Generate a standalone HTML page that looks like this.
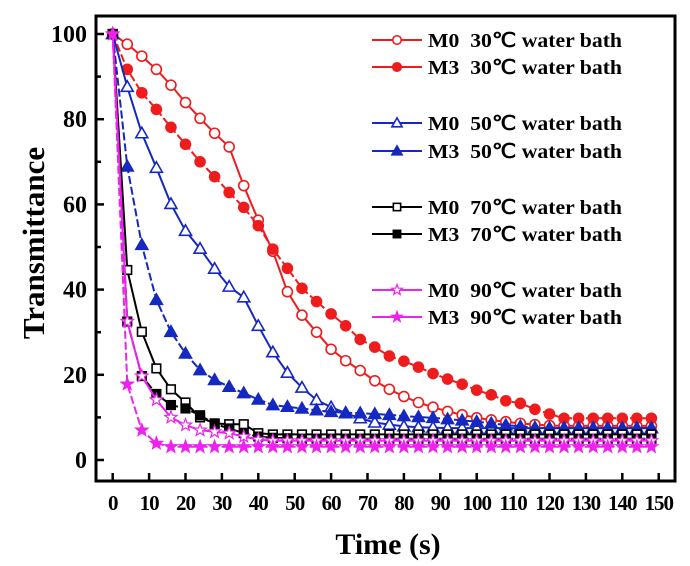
<!DOCTYPE html>
<html><head><meta charset="utf-8"><style>
body{margin:0;background:#fff;}
svg{display:block;font-family:"Liberation Serif",serif;font-weight:bold;}
text{white-space:pre;}
</style></head><body>
<svg id="chart" width="690" height="566" viewBox="0 0 690 566">
<rect x="96" y="16" width="579" height="465" fill="none" stroke="#000" stroke-width="3"/>
<g id="axes"></g><g id="series"></g><g id="legend"></g>
<text x="44" y="243" font-size="31" text-anchor="middle" transform="rotate(-90 44 243)">Transmittance</text>
<text x="388" y="554" font-size="30" text-anchor="middle">Time (s)</text>
</svg>
<script>
const times = [0,4,8,12,16,20,24,28,32,36,40,44,48,52,56,60,64,68,72,76,80,84,88,92,96,100,104,108,112,116,120,124,128,132,136,140,144,148];
const m0_30 = [100,97.6,94.8,91.7,88,83.9,80.2,76.7,73.5,64.4,56.3,49,39.5,34,30,26,23.3,21,18.6,16.6,14.9,13.5,12.4,11.4,10.6,9.9,9.4,9,8.6,8.3,8.1,8,8,8,8,8,8,8];
const m3_30 = [100,91.7,86.2,82.3,78.1,74.1,70,66.5,62.8,59.3,55,49.5,45,40.3,37.2,34.3,31.5,28.3,26.5,24.4,23.2,21.8,20.3,19,17.8,16.4,15.3,13.9,13.3,11.9,10.8,9.8,9.8,9.8,9.8,9.8,9.8,9.8];
const m0_50 = [100,87.6,76.7,68.6,60.1,53.8,49.6,44.9,40.7,38.2,31.5,25.3,20.5,17,14.1,12.4,11,9.8,8.8,8.3,7.9,7.7,7.6,7.5,7.5,7.5,7.5,7.5,7.5,7.5,7.5,7.5,7.5,7.5,7.5,7.5,7.5,7.5];
const m3_50 = [100,68.9,50.5,37.6,30.1,25,21.1,18.8,17.2,15.7,14.2,12.9,12.5,12.1,11.7,11.3,11.1,11,10.8,10.6,10.3,10.1,9.9,9.6,9.3,9,8.6,8.2,7.9,7.6,7.5,7.5,7.5,7.5,7.5,7.5,7.5,7.5];
const m0_70 = [100,44.6,30.1,21.5,16.6,13.5,10,8.6,8.4,8.4,6.3,6,6,6,6,6,6,6,6,6,6,6,6,6,6,6,6,6,6,6,6,6,6,6,6,6,6,6];
const m3_70 = [100,32.5,19.7,15.5,12.9,12.1,10.5,8.5,7.4,6.3,5.5,5.2,5.1,5,5,5,5,5,5,5,5,5,5,5,5,5,5,5,5,5,5,5,5,5,5,5,5,5];
const m0_90 = [100,32.5,19.7,14.1,10,8.2,7,6.6,6.3,5.5,4.8,4.5,4.5,4.5,4.5,4.5,4.5,4.5,4.5,4.5,4.5,4.5,4.5,4.5,4.5,4.5,4.5,4.5,4.5,4.5,4.5,4.5,4.5,4.5,4.5,4.5,4.5,4.5];
const m3_90 = [100,17.8,7,3.9,3.1,3.1,3.1,3.1,3.1,3.1,3.1,3.1,3.1,3.1,3.1,3.1,3.1,3.1,3.1,3.1,3.1,3.1,3.1,3.1,3.1,3.1,3.1,3.1,3.1,3.1,3.1,3.1,3.1,3.1,3.1,3.1,3.1,3.1];
const xTicks = [0,10,20,30,40,50,60,70,80,90,100,110,120,130,140,150];
const yTicks = [0,20,40,60,80,100];
const seriesNames = ["M0  30℃ water bath","M3  30℃ water bath","M0  50℃ water bath","M3  50℃ water bath","M0  70℃ water bath","M3  70℃ water bath","M0  90℃ water bath","M3  90℃ water bath"];

const NS="http://www.w3.org/2000/svg";
function X(t){return 112.7+t*3.64;}
function Y(v){return 460-v*4.26;}
function mk(tag,attrs,parent){const e=document.createElementNS(NS,tag);for(const k in attrs)e.setAttribute(k,attrs[k]);parent.appendChild(e);return e;}
const axes=document.getElementById('axes');
xTicks.forEach(t=>{
  const l=mk('line',{x1:X(t),x2:X(t),y1:481,y2:473,stroke:'#000','stroke-width':2.5},axes);
  
  
  const tx=mk('text',{x:X(t),y:510,'font-size':21,'letter-spacing':-1,'text-anchor':'middle'},axes);tx.textContent=t;
  
  
});
for(let v=0;v<=100;v+=10){
  const l=mk('line',{x1:96,x2:v%20===0?104:101,y1:Y(v),y2:Y(v),stroke:'#000','stroke-width':2.5},axes);
  
  
}
yTicks.forEach(v=>{
  const tx=mk('text',{x:87,y:Y(v)+8,'font-size':24,'text-anchor':'end'},axes);tx.textContent=v;
  
  
});
function marker(g,type,filled,color,x,y,s){
  const fill=filled?color:'#fff';let e;
  if(type==='circle')e=mk('circle',{cx:x,cy:y,r:5*s,fill:fill,stroke:color,'stroke-width':1.6},g);
  else if(type==='tri')e=mk('polygon',{points:`${x},${y-6*s} ${x-6*s},${y+4.5*s} ${x+6*s},${y+4.5*s}`,fill:fill,stroke:color,'stroke-width':1.6},g);
  else if(type==='square')e=mk('rect',{x:x-4.3*s,y:y-4.3*s,width:8.6*s,height:8.6*s,fill:fill,stroke:color,'stroke-width':1.6},g);
  else{let p=[];for(let i=0;i<10;i++){const r=i%2?2.7*s:6.5*s;const a=-Math.PI/2+i*Math.PI/5;p.push((x+r*Math.cos(a)).toFixed(1)+','+(y+r*Math.sin(a)).toFixed(1));}
    e=mk('polygon',{points:p.join(' '),fill:fill,stroke:color,'stroke-width':1.2},g);}
  return e;
}
const defs=[
 {d:m0_30,c:'#ee1c1c',t:'circle',f:false,dash:''},
 {d:m3_30,c:'#ee1c1c',t:'circle',f:true,dash:'8,3'},
 {d:m0_50,c:'#1528c0',t:'tri',f:false,dash:''},
 {d:m3_50,c:'#1528c0',t:'tri',f:true,dash:'8,3'},
 {d:m0_70,c:'#000',t:'square',f:false,dash:''},
 {d:m3_70,c:'#000',t:'square',f:true,dash:'8,3'},
 {d:m0_90,c:'#ee22ee',t:'star',f:false,dash:''},
 {d:m3_90,c:'#ee22ee',t:'star',f:true,dash:'8,3'}];
const sg=document.getElementById('series');
const names=['m0-30c','m3-30c','m0-50c','m3-50c','m0-70c','m3-70c','m0-90c','m3-90c'];
defs.forEach((s,i)=>{
  const g=mk('g',{},sg);
  
  
  const pts=times.map((t,j)=>X(t).toFixed(1)+','+Y(s.d[j]).toFixed(1)).join(' ');
  const pl=mk('polyline',{points:pts,fill:'none',stroke:s.c,'stroke-width':2,'stroke-dasharray':s.dash},g);
  
  
  times.forEach((t,j)=>{
    const m=marker(g,s.t,s.f,s.c,X(t),Y(s.d[j]),1);
    
    
  });
});
const lg=document.getElementById('legend');
const rows=[40,67,123,151,207,234,290,317];
defs.forEach((s,i)=>{
  const g=mk('g',{},lg);
  
  
  mk('line',{x1:372,x2:422,y1:rows[i],y2:rows[i],stroke:s.c,'stroke-width':2},g);
  marker(g,s.t,s.f,s.c,397,rows[i],0.85);
  const tx=mk('text',{x:428,y:rows[i]+7,'font-size':20,textLength:194,lengthAdjust:'spacingAndGlyphs'},g);tx.textContent=seriesNames[i];
});
</script>
</body></html>
